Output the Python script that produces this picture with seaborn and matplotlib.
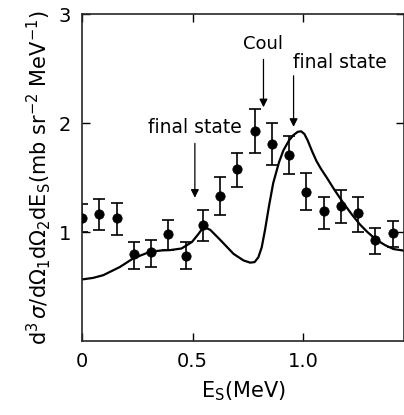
import numpy as np
import seaborn as sns
import matplotlib.pyplot as plt

# measured points (E_s in MeV) with error bar ends
e_s = [0.0, 0.078, 0.156, 0.234, 0.312, 0.39, 0.468, 0.546, 0.624, 0.702,
       0.78, 0.858, 0.936, 1.014, 1.092, 1.17, 1.248, 1.326, 1.404]
xsec = [1.13, 1.165, 1.13, 0.795, 0.82, 0.98, 0.78, 1.064, 1.33, 1.58,
        1.93, 1.81, 1.71, 1.37, 1.19, 1.24, 1.18, 0.927, 0.99]
xsec_hi = [1.26, 1.30, 1.27, 0.905, 0.93, 1.11, 0.905, 1.20, 1.51, 1.73,
           2.125, 2.00, 1.88, 1.54, 1.32, 1.385, 1.32, 1.04, 1.10]
xsec_lo = [1.00, 1.02, 0.97, 0.66, 0.68, 0.835, 0.66, 0.92, 1.16, 1.415,
           1.73, 1.62, 1.53, 1.20, 1.025, 1.08, 1.00, 0.80, 0.865]

# calculation (solid curve)
curve_e = [0.0, 0.05, 0.096, 0.171, 0.232, 0.308, 0.36, 0.398, 0.45, 0.497,
           0.525, 0.55, 0.58, 0.624, 0.685, 0.73, 0.76, 0.78, 0.797, 0.812,
           0.827, 0.845, 0.864, 0.89, 0.91, 0.935, 0.955, 0.975, 0.99, 1.005,
           1.02, 1.04, 1.06, 1.08, 1.106, 1.14, 1.18, 1.22, 1.256, 1.29,
           1.33, 1.37, 1.407, 1.455]
curve_x = [0.566, 0.58, 0.605, 0.68, 0.76, 0.82, 0.832, 0.835, 0.85, 0.91,
           0.98, 1.05, 1.02, 0.93, 0.80, 0.74, 0.72, 0.725, 0.77, 0.86,
           1.02, 1.24, 1.45, 1.64, 1.75, 1.84, 1.89, 1.92, 1.925, 1.9,
           1.84, 1.74, 1.65, 1.58, 1.50, 1.39, 1.27, 1.16, 1.07, 1.0,
           0.93, 0.88, 0.845, 0.83]

sns.set_style("ticks")
plt.rcParams['font.family'] = ['DejaVu Sans']
plt.rcParams['text.color'] = 'black'
plt.rcParams['axes.labelcolor'] = 'black'
plt.rcParams['xtick.color'] = 'black'
plt.rcParams['ytick.color'] = 'black'

fig = plt.figure(figsize=(4.04, 4.15), dpi=100)
ax = fig.add_axes([0.203, 0.178, 0.797, 0.788])

sns.lineplot(x=curve_e, y=curve_x, color='black', lw=1.6, ax=ax, sort=False)
yerr = [np.array(xsec) - np.array(xsec_lo), np.array(xsec_hi) - np.array(xsec)]
ax.errorbar(e_s, xsec, yerr=yerr, fmt='none', ecolor='black', elinewidth=1.2,
            capsize=4, capthick=1.2)
sns.scatterplot(x=e_s, y=xsec, color='black', s=45, edgecolor='black', ax=ax, zorder=3)

# annotations
arrow = dict(arrowstyle='-|>', color='black', lw=0.9, mutation_scale=12)
ax.annotate('final state', xy=(0.51, 1.29), xytext=(0.51, 1.87),
            ha='center', va='bottom', fontsize=13.5, arrowprops=arrow)
ax.annotate('Coul', xy=(0.82, 2.12), xytext=(0.82, 2.64),
            ha='center', va='bottom', fontsize=13, arrowprops=arrow)
ax.annotate('', xy=(0.956, 1.94), xytext=(0.956, 2.46), arrowprops=arrow)
ax.text(1.167, 2.47, 'final state', ha='center', va='bottom', fontsize=13.5)

ax.set_xlim(0, 1.455)
ax.set_ylim(0, 3.0)
ax.set_xticks([0, 0.5, 1.0])
ax.set_xticklabels(['0', '0.5', '1.0'])
ax.set_yticks([1, 2, 3])
ax.tick_params(direction='in', length=6, width=1, labelsize=14, top=True, right=True, pad=8)
for s in ax.spines.values():
    s.set_linewidth(1.2)

ax.set_xlabel(r'E$_{\mathrm{S}}$(MeV)', fontsize=15, labelpad=6)
ax.set_ylabel(r'd$^3\,\sigma$/d$\Omega_1$d$\Omega_2$dE$_{\mathrm{S}}$(mb sr$^{-2}$ MeV$^{-1}$)',
              fontsize=15, labelpad=4)

fig.savefig('out.png', dpi=100)
